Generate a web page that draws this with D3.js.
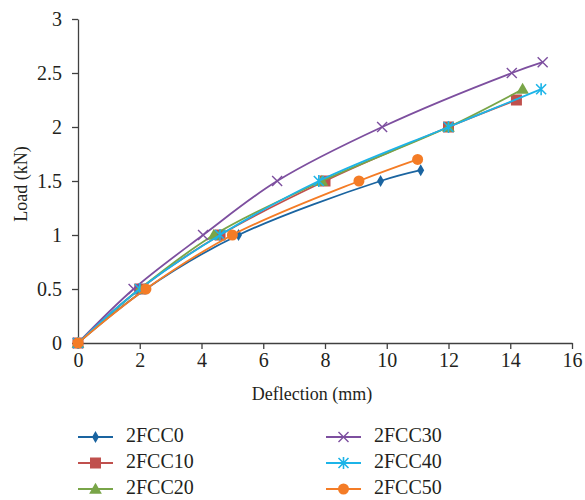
<!DOCTYPE html>
<html><head><meta charset="utf-8">
<script src="https://cdn.jsdelivr.net/npm/d3@7"></script>
<style>body{margin:0;background:#fff}text{font-family:"Liberation Serif","Times New Roman",serif;fill:#231f20}</style>
</head><body><svg id="c" width="585" height="500"></svg>
<script>
const seriesNames = ["2FCC0","2FCC10","2FCC20","2FCC30","2FCC40","2FCC50"];
const s2FCC0  = [[0,0],[2.2,0.5],[5.2,1.0],[9.8,1.5],[11.1,1.6]];
const s2FCC10 = [[0,0],[2.0,0.5],[4.6,1.0],[8.0,1.5],[12.0,2.0],[14.2,2.25]];
const s2FCC20 = [[0,0],[2.0,0.5],[4.4,1.0],[7.9,1.5],[12.0,2.0],[14.4,2.35]];
const s2FCC30 = [[0,0],[1.8,0.5],[4.05,1.0],[6.45,1.5],[9.85,2.0],[14.05,2.5],[15.05,2.6]];
const s2FCC40 = [[0,0],[2.0,0.5],[4.6,1.0],[7.8,1.5],[12.0,2.0],[15.0,2.35]];
const s2FCC50 = [[0,0],[2.2,0.5],[5.0,1.0],[9.1,1.5],[11.0,1.7]];
const xTicks = [0,2,4,6,8,10,12,14,16];
const yTicks = [0,0.5,1,1.5,2,2.5,3];
const colors = ["#1a64a0","#c0504d","#79a548","#7d4f9f","#1cb4e8","#f47c26"];
const markers = ["diamond","square","triangle","x","star","circle"];
const data = [s2FCC0,s2FCC10,s2FCC20,s2FCC30,s2FCC40,s2FCC50];

const svg = d3.select("#c");
const x = d3.scaleLinear().domain([0,16]).range([78,572]);
const y = d3.scaleLinear().domain([0,3]).range([343,19]);

const xa = svg.append("g").attr("transform","translate(0,343)")
  .call(d3.axisBottom(x).tickValues(xTicks).tickSize(6).tickSizeOuter(0).tickFormat(d3.format("d")));
const ya = svg.append("g").attr("transform","translate(78,0)")
  .call(d3.axisLeft(y).tickValues(yTicks).tickSize(6).tickSizeOuter(0).tickFormat(d=>String(d)));
[xa,ya].forEach(a=>{a.attr("font-family","Liberation Serif").attr("font-size",20);
  a.selectAll("path,line").attr("stroke","#404040").attr("stroke-width",1.3);
  a.selectAll("text").attr("font-family","Liberation Serif").attr("font-size",20)
   .style("font-family","'Liberation Serif', serif").style("font-size","20px").attr("fill","#231f20");});
xa.selectAll("text").attr("y",10).attr("dy","0.72em");
ya.selectAll("text").attr("x",-16).attr("dy","0.33em");

svg.append("text").attr("x",312).attr("y",400).attr("text-anchor","middle").style("font-size","18px").text("Deflection (mm)");
svg.append("text").attr("transform","translate(27,184) rotate(-90)").attr("text-anchor","middle").style("font-size","18px").text("Load (kN)");

function drawMarker(g, type, cx, cy, col){
  if(type==="diamond") g.append("path").attr("d",d3.symbol(d3.symbolDiamond,42)()).attr("transform",`translate(${cx},${cy})`).attr("fill",col);
  else if(type==="square") g.append("rect").attr("x",cx-5.5).attr("y",cy-5.5).attr("width",11).attr("height",11).attr("fill",col);
  else if(type==="triangle") g.append("path").attr("d",d3.symbol(d3.symbolTriangle,70)()).attr("transform",`translate(${cx},${cy+1})`).attr("fill",col);
  else if(type==="circle") g.append("circle").attr("cx",cx).attr("cy",cy).attr("r",5.5).attr("fill",col);
  else if(type==="x") g.append("path").attr("d",`M${cx-5},${cy-5}L${cx+5},${cy+5}M${cx-5},${cy+5}L${cx+5},${cy-5}`).attr("stroke",col).attr("stroke-width",1.4).attr("fill","none");
  else if(type==="star") g.append("path").attr("d",`M${cx-5},${cy-5}L${cx+5},${cy+5}M${cx-5},${cy+5}L${cx+5},${cy-5}M${cx},${cy-6}L${cx},${cy+6}`).attr("stroke",col).attr("stroke-width",1.6).attr("fill","none");
}

const line = d3.line().x(d=>x(d[0])).y(d=>y(d[1])).curve(d3.curveCatmullRom.alpha(0.5));
data.forEach((s,i)=>{
  const g = svg.append("g");
  g.append("path").datum(s).attr("d",line).attr("fill","none").attr("stroke",colors[i]).attr("stroke-width",1.8);
  s.forEach(p=>drawMarker(g,markers[i],x(p[0]),y(p[1]),colors[i]));
});

// legend
const legPos = [[78,437],[78,463],[78,489],[326,437],[326,463],[326,489]];
seriesNames.forEach((n,i)=>{
  const [lx,ly]=legPos[i];
  const g=svg.append("g");
  g.append("line").attr("x1",lx).attr("x2",lx+35).attr("y1",ly).attr("y2",ly).attr("stroke",colors[i]).attr("stroke-width",1.8);
  drawMarker(g,markers[i],lx+17.5,ly,colors[i]);
  g.append("text").attr("x",lx+48).attr("y",ly+5).style("font-size","20px").text(n);
});
</script></body></html>
